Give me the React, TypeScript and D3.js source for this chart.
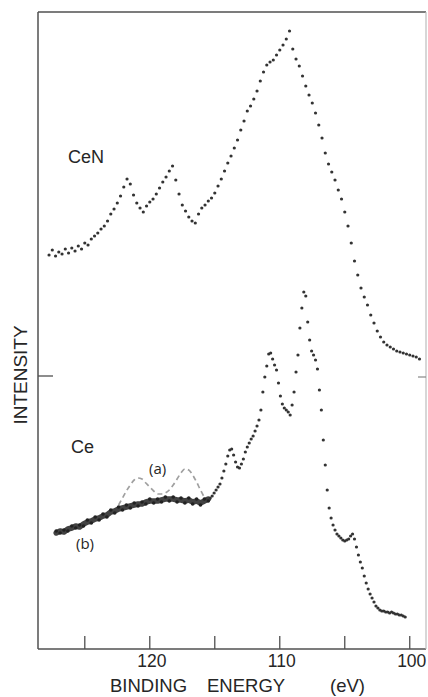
import React from "react";
import * as d3 from "d3";

// Binding energy (eV), intensity (arb. units)
const ceNSpectrum: [number, number][] = [
  [127.75, 394], [127.5, 399], [127.25, 393], [127.0, 397], [126.75, 395], [126.5, 400],
  [126.25, 396], [126.0, 401], [125.75, 398], [125.5, 403], [125.25, 400], [125.0, 406],
  [124.75, 404], [124.5, 410], [124.25, 413], [124.0, 416], [123.75, 420], [123.5, 423],
  [123.25, 428], [123.0, 435], [122.75, 440], [122.5, 446], [122.25, 453], [122.0, 462],
  [121.75, 470], [121.5, 465], [121.25, 454], [121.0, 446], [120.75, 441], [120.5, 437],
  [120.25, 443], [120.0, 447], [119.75, 450], [119.5, 455], [119.25, 461], [119.0, 467],
  [118.75, 472], [118.5, 478], [118.25, 483], [118.0, 469], [117.75, 455], [117.5, 444],
  [117.25, 438], [117.0, 432], [116.75, 428], [116.5, 426], [116.25, 435], [116.0, 441],
  [115.75, 444], [115.5, 448], [115.25, 451], [115.0, 456], [114.75, 463], [114.5, 470],
  [114.25, 478], [114.0, 486], [113.75, 493], [113.5, 501], [113.25, 509], [113.0, 519],
  [112.75, 528], [112.5, 538], [112.25, 543], [112.0, 550], [111.75, 558], [111.5, 568],
  [111.25, 577], [111.0, 584], [110.75, 587], [110.5, 589], [110.25, 594], [110.0, 599],
  [109.75, 604], [109.5, 610], [109.25, 618], [109.0, 600], [108.75, 590], [108.5, 583],
  [108.25, 573], [108.0, 563], [107.75, 554], [107.5, 546], [107.25, 536], [107.0, 524],
  [106.75, 511], [106.5, 496], [106.25, 485], [106.0, 477], [105.75, 469], [105.5, 459],
  [105.25, 450], [105.0, 437], [104.75, 423], [104.5, 406], [104.25, 388], [104.0, 374],
  [103.75, 361], [103.5, 352], [103.25, 344], [103.0, 334], [102.75, 326], [102.5, 318],
  [102.25, 312], [102.0, 307], [101.75, 304], [101.5, 302], [101.25, 300], [101.0, 298],
  [100.75, 297], [100.5, 296], [100.25, 295], [100.0, 294], [99.75, 293], [99.5, 292],
  [99.25, 290],
];

// Ce, trace (b): low-energy-loss background region
const ceBandSpectrum: [number, number][] = [
  [127.2, 116], [126.9, 118], [126.6, 117], [126.3, 120], [126.0, 121], [125.7, 123],
  [125.4, 122], [125.1, 125], [124.8, 127], [124.5, 128], [124.2, 130], [123.9, 131],
  [123.6, 133], [123.3, 134], [123.0, 137], [122.7, 138], [122.4, 140], [122.1, 141],
  [121.8, 142], [121.5, 143], [121.2, 144], [120.9, 145], [120.6, 145], [120.3, 147],
  [120.0, 148], [119.7, 148], [119.4, 148], [119.1, 149], [118.8, 150], [118.5, 150],
  [118.2, 150], [117.9, 149], [117.6, 149], [117.3, 148], [117.0, 149], [116.7, 147],
  [116.4, 148], [116.1, 146], [115.8, 148], [115.5, 150],
];

// Ce, main spectrum
const ceSpectrum: [number, number][] = [
  [115.35, 151], [115.2, 153], [115.05, 156], [114.9, 159], [114.75, 162], [114.6, 165],
  [114.45, 171], [114.3, 178], [114.15, 185], [114.0, 193], [113.85, 199], [113.7, 200],
  [113.55, 194], [113.4, 187], [113.25, 182], [113.1, 181], [112.95, 185], [112.8, 190],
  [112.65, 197], [112.5, 202], [112.35, 206], [112.2, 210], [112.05, 213], [111.9, 218],
  [111.75, 223], [111.6, 229], [111.45, 239], [111.3, 257], [111.15, 272], [111.0, 283],
  [110.85, 295], [110.7, 296], [110.55, 290], [110.4, 284], [110.25, 279], [110.1, 266],
  [109.95, 253], [109.8, 245], [109.65, 241], [109.5, 239], [109.35, 237], [109.2, 234],
  [109.05, 244], [108.9, 257], [108.75, 277], [108.6, 294], [108.45, 321], [108.3, 341],
  [108.15, 357], [108.0, 353], [107.85, 327], [107.7, 309], [107.55, 298], [107.4, 294],
  [107.25, 289], [107.1, 280], [106.95, 259], [106.8, 239], [106.65, 209], [106.5, 184],
  [106.35, 159], [106.2, 141], [106.05, 131], [105.9, 124], [105.75, 119], [105.6, 115],
  [105.45, 113], [105.3, 111], [105.15, 109], [105.0, 108], [104.85, 109], [104.7, 110],
  [104.55, 113], [104.4, 115], [104.25, 110], [104.1, 102], [103.95, 94], [103.8, 87],
  [103.65, 81], [103.5, 73], [103.35, 66], [103.2, 60], [103.05, 55], [102.9, 51],
  [102.75, 47], [102.6, 43], [102.45, 41], [102.3, 39], [102.15, 38], [102.0, 38],
  [101.85, 37], [101.7, 37], [101.55, 36], [101.4, 37], [101.25, 36], [101.1, 35],
  [100.95, 35], [100.8, 34], [100.65, 34], [100.5, 33], [100.35, 32],
];

// Ce, trace (a): dashed curve
const ceDashedSpectrum: [number, number][] = [
  [122.4, 144], [122.1, 151], [121.8, 158], [121.5, 164], [121.2, 169], [120.9, 171],
  [120.6, 170], [120.3, 166], [120.0, 162], [119.7, 158], [119.4, 155], [119.1, 155],
  [118.8, 156], [118.5, 159], [118.2, 164], [117.9, 170], [117.6, 176], [117.3, 180],
  [117.0, 179], [116.7, 174], [116.4, 167], [116.1, 159], [115.8, 152], [115.5, 149],
];

const xTickValues = [125, 120, 115, 110, 105, 100];
const xTickLabels = ["", "120", "", "110", "", "100"];
const yTickValues = [273];

const W = 428;
const H = 697;
const left = 38;
const right = 426;
const top = 12;
const bottom = 649;

export default function App() {
  const x = d3.scaleLinear().domain([128.6, 98.75]).range([left, right]);
  const y = d3.scaleLinear().domain([0, 637]).range([bottom, top]);

  const line = d3
    .line<[number, number]>()
    .x((d) => x(d[0]))
    .y((d) => y(d[1]));
  const smooth = d3
    .line<[number, number]>()
    .x((d) => x(d[0]))
    .y((d) => y(d[1]))
    .curve(d3.curveMonotoneX);

  const dot = "#333";
  const ink = "#262626";
  const frame = "#505050";

  return (
    <svg
      width={W}
      height={H}
      style={{ position: "absolute", left: 0, top: 0, background: "#fff" }}
    >
      <rect x={0} y={0} width={W} height={H} fill="#fff" />
      {/* frame */}
      <line x1={left} x2={left} y1={top} y2={bottom} stroke={frame} strokeWidth={1.5} />
      <line x1={left} x2={right} y1={top} y2={top} stroke={frame} strokeWidth={1.6} />
      <line x1={left} x2={right} y1={bottom} y2={bottom} stroke={frame} strokeWidth={1.6} />
      <line x1={right} x2={right} y1={top} y2={bottom} stroke="#bdbdbd" strokeWidth={1.2} />

      {/* x ticks */}
      {xTickValues.map((t, i) => (
        <g key={t}>
          <line x1={x(t)} x2={x(t)} y1={bottom} y2={bottom - 13} stroke={frame} strokeWidth={1.3} />
          {xTickLabels[i] && (
            <text
              x={x(t) + 2}
              y={667}
              textAnchor="middle"
              fontFamily="'Liberation Sans', Arial, sans-serif"
              fontSize={17.5}
              fill={ink}
            >
              {xTickLabels[i]}
            </text>
          )}
        </g>
      ))}
      {/* y ticks (left and right) */}
      {yTickValues.map((t) => (
        <g key={t}>
          <line x1={left} x2={left + 15} y1={y(t)} y2={y(t)} stroke={frame} strokeWidth={1.3} />
          <line x1={right - 8} x2={right} y1={y(t) + 1} y2={y(t) + 1} stroke="#888" strokeWidth={1.2} />
        </g>
      ))}

      {/* axis titles */}
      <g fontFamily="'Liberation Sans', Arial, sans-serif" fontSize={18.5} fill={ink}>
        <text x={110} y={692}>BINDING</text>
        <text x={207} y={692}>ENERGY</text>
        <text x={330} y={692}>(eV)</text>
      </g>
      <text
        transform="translate(27,375) rotate(-90)"
        textAnchor="middle"
        fontFamily="'Liberation Sans', Arial, sans-serif"
        fontSize={19}
        fill={ink}
      >
        INTENSITY
      </text>

      {/* CeN spectrum: dots */}
      {ceNSpectrum.map((d, i) => (
        <circle key={"n" + i} cx={x(d[0])} cy={y(d[1])} r={1.6} fill={dot} />
      ))}

      {/* Ce (a) dashed */}
      <path
        d={smooth(ceDashedSpectrum) || ""}
        fill="none"
        stroke="#a0a0a0"
        strokeWidth={1.7}
        strokeDasharray="5 3.5"
      />

      {/* Ce (b) thick noisy band */}
      <path
        d={line(ceBandSpectrum) || ""}
        fill="none"
        stroke="#2e2e2e"
        strokeWidth={5.5}
        strokeLinejoin="round"
        strokeLinecap="round"
        opacity={0.9}
      />
      {ceBandSpectrum.map((d, i) => (
        <circle key={"b" + i} cx={x(d[0])} cy={y(d[1]) + (i % 2 ? 2 : -2)} r={1.8} fill="#222" />
      ))}

      {/* Ce main dots */}
      {ceSpectrum.map((d, i) => (
        <circle key={"c" + i} cx={x(d[0])} cy={y(d[1])} r={1.6} fill={dot} />
      ))}

      {/* labels */}
      <g fontFamily="'Liberation Sans', Arial, sans-serif" fontSize={18} fill={ink}>
        <text x={68} y={163}>CeN</text>
        <text x={71} y={453}>Ce</text>
      </g>
      <g fontFamily="'Open Sans', 'Noto Sans', sans-serif" fontSize={15} fill={ink}>
        <text x={149} y={474}>(a)</text>
        <text x={76} y={549}>(b)</text>
      </g>
    </svg>
  );
}
